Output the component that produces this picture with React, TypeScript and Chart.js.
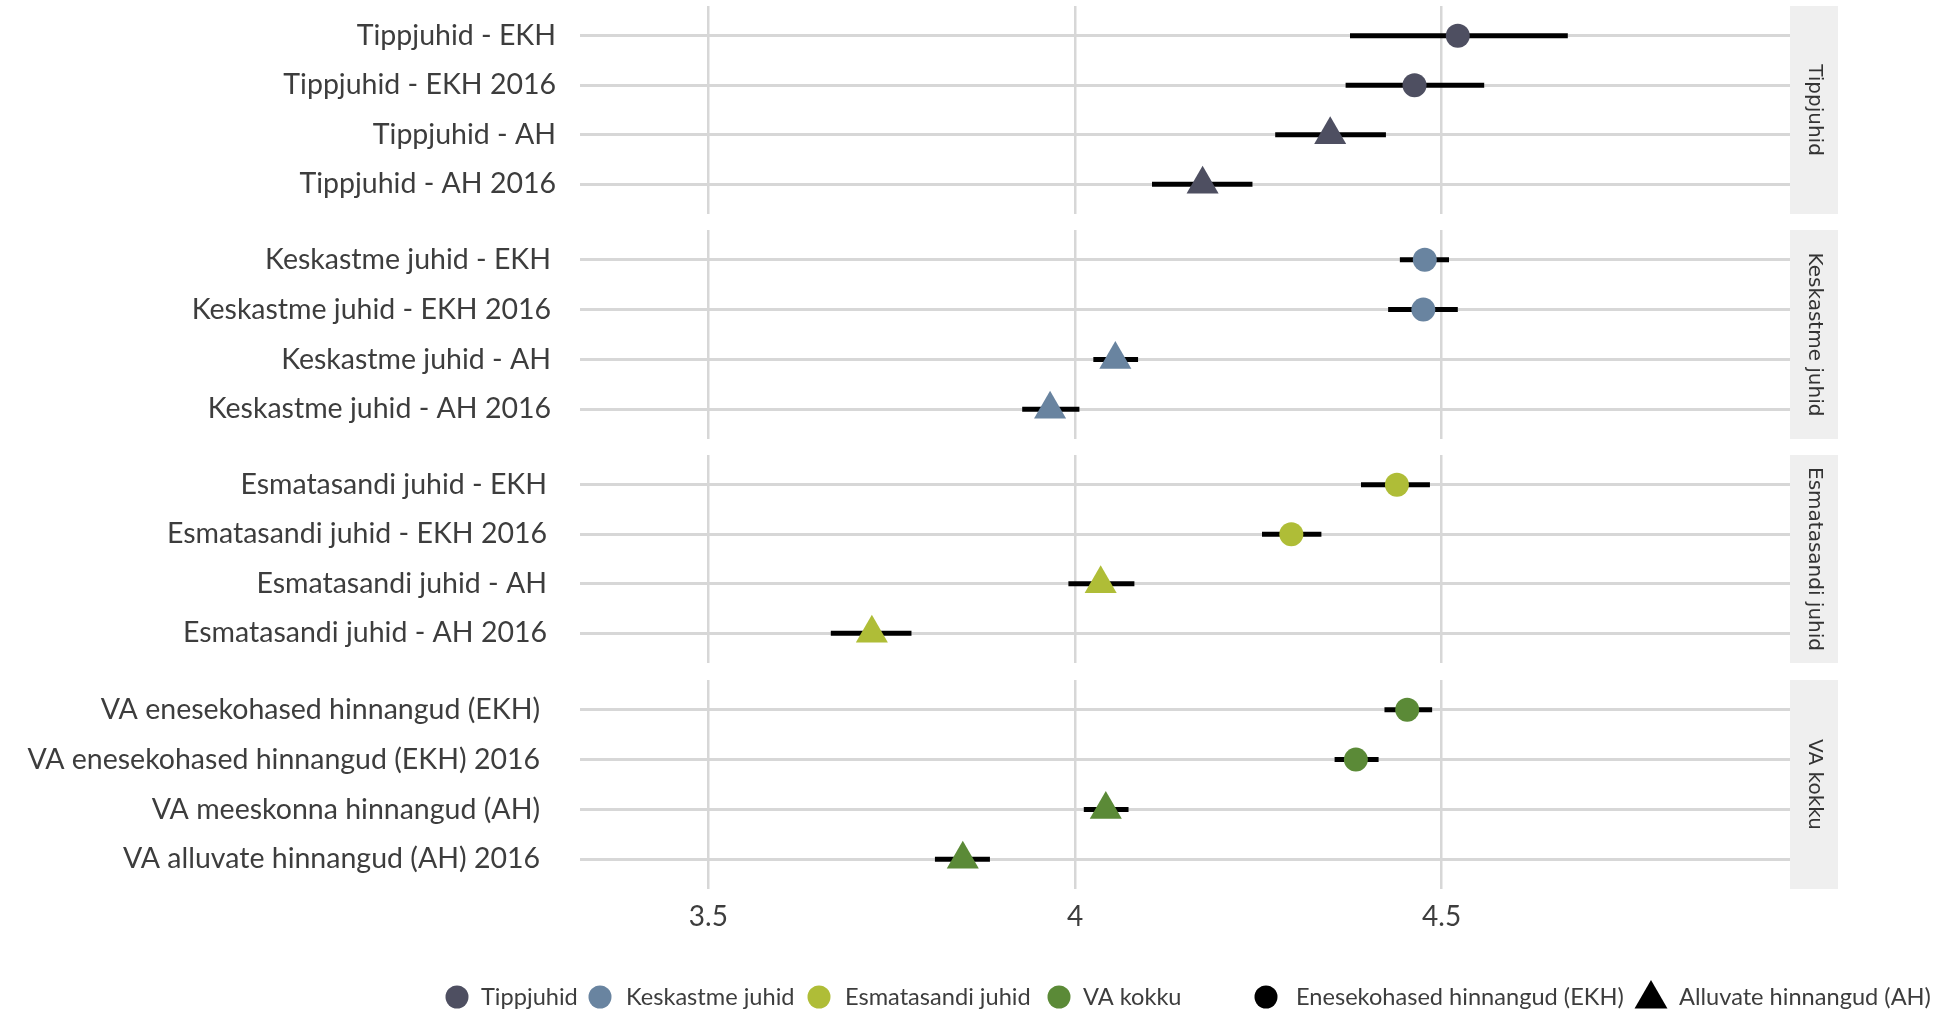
import React, { useEffect, useRef } from "react";
import { Chart, registerables } from "chart.js";
Chart.register(...registerables);

// ---------- data ----------
const panelNames = ["Tippjuhid", "Keskastme juhid", "Esmatasandi juhid", "VA kokku"];

const tippLabels = ["Tippjuhid - EKH", "Tippjuhid - EKH 2016", "Tippjuhid - AH", "Tippjuhid - AH 2016"];
const tippMean = [4.522, 4.463, 4.348, 4.174];
const tippLow = [4.375, 4.369, 4.273, 4.105];
const tippHigh = [4.672, 4.558, 4.424, 4.242];

const keskLabels = ["Keskastme juhid - EKH", "Keskastme juhid - EKH 2016", "Keskastme juhid - AH", "Keskastme juhid - AH 2016"];
const keskMean = [4.477, 4.475, 4.055, 3.966];
const keskLow = [4.443, 4.427, 4.025, 3.928];
const keskHigh = [4.51, 4.522, 4.086, 4.006];

const esmaLabels = ["Esmatasandi juhid - EKH", "Esmatasandi juhid - EKH 2016", "Esmatasandi juhid - AH", "Esmatasandi juhid - AH 2016"];
const esmaMean = [4.439, 4.295, 4.035, 3.723];
const esmaLow = [4.39, 4.255, 3.991, 3.667];
const esmaHigh = [4.484, 4.336, 4.081, 3.777];

const vaLabels = ["VA enesekohased hinnangud (EKH)", "VA enesekohased hinnangud (EKH) 2016", "VA meeskonna hinnangud (AH)", "VA alluvate hinnangud (AH) 2016"];
const vaMean = [4.453, 4.383, 4.042, 3.847];
const vaLow = [4.422, 4.354, 4.012, 3.809];
const vaHigh = [4.487, 4.414, 4.073, 3.884];

const rowShapes = ["circle", "circle", "triangle", "triangle"];
const panelColors = ["#4e4f61", "#6984a0", "#afbd37", "#5b8a37"];
const xTicks = [3.5, 4, 4.5];
const legendShapeLabels = ["Enesekohased hinnangud (EKH)", "Alluvate hinnangud (AH)"];

const panels = [
  { name: panelNames[0], labels: tippLabels, mean: tippMean, low: tippLow, high: tippHigh, color: panelColors[0] },
  { name: panelNames[1], labels: keskLabels, mean: keskMean, low: keskLow, high: keskHigh, color: panelColors[1] },
  { name: panelNames[2], labels: esmaLabels, mean: esmaMean, low: esmaLow, high: esmaHigh, color: panelColors[2] },
  { name: panelNames[3], labels: vaLabels, mean: vaMean, low: vaLow, high: vaHigh, color: panelColors[3] },
];

// ---------- layout ----------
const W = 1955;
const PLOT_RIGHT = 1790;
const STRIP_W = 48;
const Y_AXIS_W = 580;
const panelTops = [6, 230, 455, 680];
const panelHeights = [208, 209, 208, 209];
const labelPads = [24, 29, 33, 40];
const LAST_H = 1014 - 680;
const GRID = "#d7d7d7";
const TEXT = "#3d3d3d";
const FONT = "Lato";

const stripPlugin = {
  id: "strip",
  beforeDraw(chart: any, _a: any, opts: any) {
    const { ctx, chartArea } = chart;
    ctx.save();
    ctx.fillStyle = "#efefef";
    ctx.fillRect(chartArea.right, chartArea.top, STRIP_W, chartArea.bottom - chartArea.top);
    ctx.translate(chartArea.right + STRIP_W / 2, (chartArea.top + chartArea.bottom) / 2);
    ctx.rotate(Math.PI / 2);
    ctx.fillStyle = "#333333";
    ctx.font = "20px 'DejaVu Sans'";
    ctx.textAlign = "center";
    ctx.textBaseline = "middle";
    ctx.fillText(opts.text, 0, 0);
    ctx.restore();
  },
};

function drawMarker(ctx: any, shape: string, x: number, y: number, r: number, color: string) {
  ctx.fillStyle = color;
  ctx.beginPath();
  if (shape === "circle") {
    ctx.arc(x, y, r, 0, Math.PI * 2);
  } else {
    ctx.moveTo(x, y - r);
    ctx.lineTo(x + Math.sin((2 * Math.PI) / 3) * r, y + r / 2);
    ctx.lineTo(x - Math.sin((2 * Math.PI) / 3) * r, y + r / 2);
    ctx.closePath();
  }
  ctx.fill();
}

const legendPlugin = {
  id: "customLegend",
  afterDraw(chart: any, _a: any, opts: any) {
    if (!opts.show) return;
    const ctx = chart.ctx;
    const y = 997 - 680;
    ctx.save();
    ctx.font = `23.6px ${FONT}`;
    ctx.textBaseline = "middle";
    ctx.textAlign = "left";
    const colorItems = [
      [457, 481],
      [600, 626],
      [819, 845],
      [1059, 1083],
    ];
    panelNames.forEach((n, i) => {
      drawMarker(ctx, "circle", colorItems[i][0], y, 11.5, panelColors[i]);
      ctx.fillStyle = TEXT;
      ctx.fillText(n, colorItems[i][1], y);
    });
    drawMarker(ctx, "circle", 1266, y, 11.5, "#000");
    ctx.fillStyle = TEXT;
    ctx.fillText(legendShapeLabels[0], 1296, y);
    drawMarker(ctx, "triangle", 1651, y + 2, 19, "#000");
    ctx.fillStyle = TEXT;
    ctx.fillText(legendShapeLabels[1], 1679, y);
    ctx.restore();
  },
};

function PanelChart({ idx }: { idx: number }) {
  const ref = useRef<HTMLCanvasElement>(null);
  const p = panels[idx];
  const last = idx === panels.length - 1;
  const h = last ? LAST_H : panelHeights[idx];
  useEffect(() => {
    const datasets: any[] = [
      {
        data: p.mean.map((m, i) => ({ x: m, y: i })),
        pointStyle: rowShapes,
        pointRadius: rowShapes.map((s) => (s === "circle" ? 12 : 18.5)),
        backgroundColor: p.color,
        borderWidth: 0,
        pointBorderWidth: 0,
        showLine: false,
        clip: false,
      },
      ...p.low.map((lo, i) => ({
        data: [
          { x: lo, y: i },
          { x: p.high[i], y: i },
        ],
        showLine: true,
        borderColor: "#000000",
        borderWidth: 5,
        pointRadius: 0,
      })),
    ];
    const chart = new Chart(ref.current as HTMLCanvasElement, {
      type: "scatter",
      data: { datasets },
      plugins: [stripPlugin, legendPlugin],
      options: {
        animation: false,
        responsive: false,
        maintainAspectRatio: false,
        devicePixelRatio: 1,
        events: [],
        layout: { autoPadding: false, padding: { left: 0, right: W - PLOT_RIGHT, top: 0, bottom: 0 } },
        plugins: {
          legend: { display: false },
          tooltip: { enabled: false },
          strip: { text: p.name },
          customLegend: { show: last },
        } as any,
        scales: {
          x: {
            type: "linear",
            min: 3.325,
            max: 4.975,
            afterBuildTicks: (s: any) => {
              s.ticks = xTicks.map((v) => ({ value: v }));
            },
            afterFit: (s: any) => {
              s.height = last ? LAST_H - panelHeights[idx] : 0;
              s.paddingLeft = 0;
              s.paddingRight = 0;
            },
            grid: { color: GRID, lineWidth: 2.5, drawTicks: false },
            border: { display: false },
            ticks: {
              display: last,
              padding: 11,
              color: TEXT,
              font: { family: FONT, size: 28 },
              callback: (v: any) => String(v),
            },
          },
          y: {
            type: "linear",
            reverse: true,
            min: -0.6,
            max: 3.6,
            afterBuildTicks: (s: any) => {
              s.ticks = p.labels.map((_, i) => ({ value: i }));
            },
            afterFit: (s: any) => {
              s.width = Y_AXIS_W;
              s.paddingTop = 0;
              s.paddingBottom = 0;
            },
            grid: { color: GRID, lineWidth: 3, drawTicks: false },
            border: { display: false },
            ticks: {
              autoSkip: false,
              padding: labelPads[idx],
              color: TEXT,
              font: { family: FONT, size: 28.5 },
              callback: (v: any) => p.labels[v],
            },
          },
        },
      } as any,
    });
    return () => chart.destroy();
  }, []);
  return (
    <canvas
      ref={ref}
      width={W}
      height={h}
      style={{ position: "absolute", left: 0, top: panelTops[idx], width: W, height: h }}
    />
  );
}

export default function App() {
  return (
    <div style={{ position: "fixed", left: 0, top: 0, width: 1955, height: 1014, background: "#fff" }}>
      {panels.map((_, i) => (
        <PanelChart key={i} idx={i} />
      ))}
    </div>
  );
}
